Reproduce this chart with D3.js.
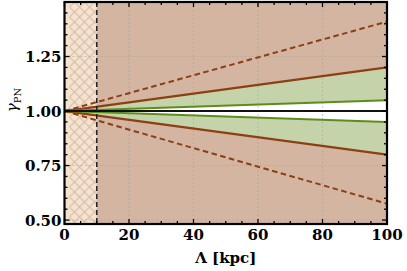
<!DOCTYPE html>
<html>
<head>
<meta charset="utf-8">
<title>gamma PN vs Lambda</title>
<script src="https://cdn.jsdelivr.net/npm/d3@7"></script>
<style>
body { margin: 0; background: #fff; }
.tick-label { font: bold 15px "DejaVu Serif", serif; }
</style>
</head>
<body>
<script>
// data
var lambdaPts = [0, 100];
var dashedUpper = [1.0, 1.41];
var solidUpper = [1.0, 1.20];
var greenUpper = [1.0, 1.05];
var greenLower = [1.0, 0.95];
var solidLower = [1.0, 0.80];
var dashedLower = [1.0, 0.575];
var screenCut = 10;
var xTicks = [0, 20, 40, 60, 80, 100];
var yTicks = [0.50, 0.75, 1.00, 1.25];

var W = 407, H = 271;
var margin = {top: 2, right: 20, bottom: 47, left: 64.5};
var width = W - margin.left - margin.right,
    height = H - margin.top - margin.bottom;

var x = d3.scaleLinear().domain([0, 100]).range([0, width]);
var y = d3.scaleLinear().domain([0.482, 1.5]).range([height, 0]);

var svg = d3.select("body").append("svg")
    .attr("width", W).attr("height", H);

var defs = svg.append("defs");
var pat = defs.append("pattern")
    .attr("id", "hatch")
    .attr("patternUnits", "userSpaceOnUse")
    .attr("width", 10).attr("height", 10);
pat.append("rect").attr("width", 10).attr("height", 10).attr("fill", "#f4e3cf");
pat.append("path").attr("d", "M0,0L10,10M10,0L0,10")
    .attr("stroke", "#d9bba7").attr("stroke-width", 1.1);
defs.append("clipPath").attr("id", "clip")
    .append("rect").attr("width", width).attr("height", height);

var g = svg.append("g")
    .attr("transform", "translate(" + margin.left + "," + margin.top + ")");
var plot = g.append("g").attr("clip-path", "url(#clip)");

// screened region and excluded region
plot.append("rect")
    .attr("x", x(0)).attr("width", x(screenCut) - x(0))
    .attr("y", 0).attr("height", height)
    .attr("fill", "#f4e3cf");
plot.append("rect")
    .attr("x", x(0) + 5).attr("width", x(screenCut) - x(0) - 5)
    .attr("y", 0).attr("height", height)
    .attr("fill", "url(#hatch)");
plot.append("rect")
    .attr("x", x(screenCut)).attr("width", x(100) - x(screenCut))
    .attr("y", 0).attr("height", height)
    .attr("fill", "#d3b5a1");

function band(top, bot) {
    return d3.area()
        .x(function(d, i) { return x(lambdaPts[i]); })
        .y0(function(d, i) { return y(bot[i]); })
        .y1(function(d, i) { return y(top[i]); })(lambdaPts);
}
plot.append("path").attr("d", band(solidUpper, greenUpper)).attr("fill", "#c5d3aa");
plot.append("path").attr("d", band(greenLower, solidLower)).attr("fill", "#c5d3aa");
plot.append("path").attr("d", band(greenUpper, greenLower)).attr("fill", "#ffffff");

// grid
plot.selectAll(".gx").data([20, 40, 60, 80]).enter().append("line")
    .attr("x1", d => x(d)).attr("x2", d => x(d))
    .attr("y1", 0).attr("y2", height)
    .attr("stroke", "#a9a29c").attr("stroke-width", 0.8)
    .attr("stroke-dasharray", "2,2").attr("opacity", 0.7);
plot.selectAll(".gy").data([0.50, 0.75, 1.25]).enter().append("line")
    .attr("x1", 0).attr("x2", width)
    .attr("y1", d => y(d)).attr("y2", d => y(d))
    .attr("stroke", "#a9a29c").attr("stroke-width", 0.8)
    .attr("stroke-dasharray", "2,2").attr("opacity", 0.7);

function line(vals) {
    return d3.line()
        .x(function(d, i) { return x(lambdaPts[i]); })
        .y(function(d, i) { return y(vals[i]); })(lambdaPts);
}
var brown = "#8b3f12", green = "#5e8c1c";
[dashedUpper, dashedLower].forEach(function(s) {
    plot.append("path").attr("d", line(s)).attr("fill", "none")
        .attr("stroke", brown).attr("stroke-width", 2)
        .attr("stroke-dasharray", "5.5,3.5");
});
[solidUpper, solidLower].forEach(function(s) {
    plot.append("path").attr("d", line(s)).attr("fill", "none")
        .attr("stroke", brown).attr("stroke-width", 2.3);
});
[greenUpper, greenLower].forEach(function(s) {
    plot.append("path").attr("d", line(s)).attr("fill", "none")
        .attr("stroke", green).attr("stroke-width", 2);
});
plot.append("line")
    .attr("x1", 0).attr("x2", width)
    .attr("y1", y(1)).attr("y2", y(1))
    .attr("stroke", "#111").attr("stroke-width", 2);

// screening boundary
plot.append("line")
    .attr("x1", x(screenCut)).attr("x2", x(screenCut))
    .attr("y1", 0).attr("y2", height)
    .attr("stroke", "#222").attr("stroke-width", 1.5)
    .attr("stroke-dasharray", "5,3");

// ticks on all four sides, pointing inward
var xMinor = d3.range(0, 101, 5), yMinor = d3.range(0.5, 1.5, 0.05);
function isMajorX(v) { return v % 20 === 0; }
function isMajorY(v) { return Math.abs(v * 4 - Math.round(v * 4)) < 1e-6; }
xMinor.forEach(function(v) {
    var len = isMajorX(v) ? 5 : 3;
    g.append("line").attr("x1", x(v)).attr("x2", x(v))
        .attr("y1", height).attr("y2", height - len)
        .attr("stroke", "#000").attr("stroke-width", 1.3);
    g.append("line").attr("x1", x(v)).attr("x2", x(v))
        .attr("y1", 0).attr("y2", len)
        .attr("stroke", "#000").attr("stroke-width", 1.3);
});
yMinor.forEach(function(v) {
    var len = isMajorY(v) ? 5 : 3;
    g.append("line").attr("x1", 0).attr("x2", len)
        .attr("y1", y(v)).attr("y2", y(v))
        .attr("stroke", "#000").attr("stroke-width", 1.3);
    g.append("line").attr("x1", width).attr("x2", width - len)
        .attr("y1", y(v)).attr("y2", y(v))
        .attr("stroke", "#000").attr("stroke-width", 1.3);
});

// frame
g.append("rect").attr("width", width).attr("height", height)
    .attr("fill", "none").attr("stroke", "#000").attr("stroke-width", 2.2);

// tick labels
g.selectAll(".xl").data(xTicks).enter().append("text")
    .attr("class", "tick-label")
    .attr("x", d => x(d)).attr("y", height + 16)
    .attr("text-anchor", "middle")
    .text(d => d);
g.selectAll(".yl").data(yTicks).enter().append("text")
    .attr("class", "tick-label")
    .attr("x", -3).attr("y", d => y(d) + 5.5)
    .attr("text-anchor", "end")
    .text(d => d.toFixed(2));

// axis titles
g.append("text")
    .attr("x", width / 2).attr("y", height + 39)
    .attr("text-anchor", "middle")
    .style("font", "bold 15px 'DejaVu Serif', serif")
    .text("Λ [kpc]");
var yl = svg.append("text")
    .attr("transform", "translate(17," + (margin.top + y(1) - 11) + ") rotate(-90)")
    .attr("text-anchor", "middle")
    .style("font", "15px 'DejaVu Serif', serif");
yl.append("tspan").style("font-style", "italic").text("γ");
yl.append("tspan").attr("dy", 4).style("font-size", "10px").text("PN");
</script>
</body>
</html>
